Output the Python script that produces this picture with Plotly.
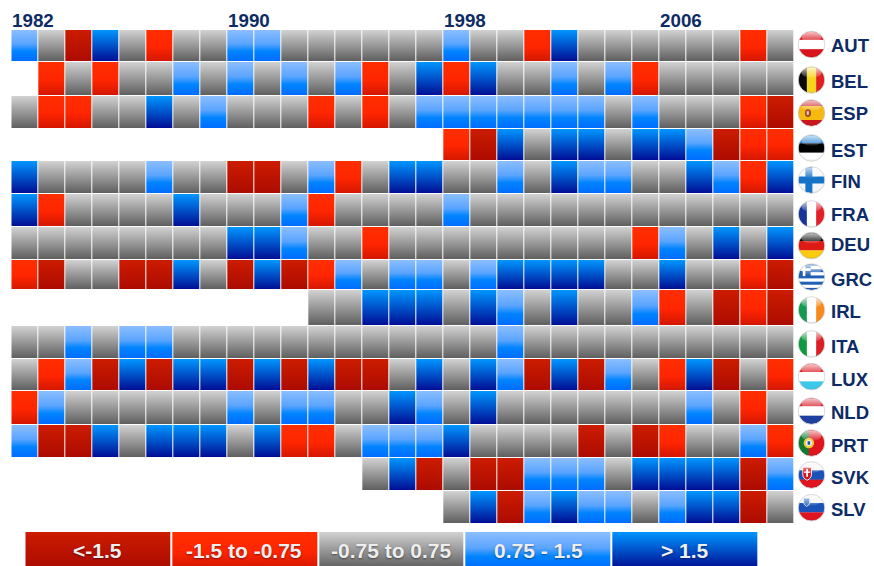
import base64
import numpy as np
import plotly.graph_objects as go

# ---- data ----
COUNTRIES = ["AUT", "BEL", "ESP", "EST", "FIN", "FRA", "DEU", "GRC", "IRL", "ITA", "LUX", "NLD", "PRT", "SVK", "SLV"]
FIRST_YEAR = 1982
YEAR_LABELS = [1982, 1990, 1998, 2006]
LEGEND_LABELS = ["<-1.5", "-1.5 to -0.75", "-0.75 to 0.75", "0.75 - 1.5", "> 1.5"]
# D: <-1.5, R: -1.5 to -0.75, G: -0.75 to 0.75, L: 0.75 - 1.5, B: > 1.5, .: no data
AUT = "LGDBGRGGLLGGGGGG" + "LGGRBGGGGGGRG"
BEL = ".RGRGGLGLGLGLRGB" + "RBGGLGLRGGGGG"
ESP = "GRRGGBGLGGGRGRGL" + "LLLLLLGLGGGRD"
EST = "................" + "RDBGBBGBBLDRR"
FIN = "BGGGGLGGDDGLRGBB" + "GGLGBLLGGBLRB"
FRA = "BRGGGGBGGGLRGGGG" + "LGGGGGGGGGGGG"
DEU = "GGGGGGGGBBLGGRGG" + "GGGGGGGRLGBGB"
GRC = "RDGGDDBGDBDRLGLL" + "GLBBBBGGBGGRD"
IRL = "...........GGBBB" + "GBLGBGGLRGDRD"
ITA = "GGLGLLGGGGGGGGGG" + "GGLGGGGGGGGGG"
LUX = "GRLDBDBBDBDBDDGB" + "GBLDBDLGRBDGR"
NLD = "RLGGGGGGLGLLGGBL" + "GBGGGGGGGLGRG"
PRT = "LDDBGBBBGBRRGLLL" + "BGGGGDGDRGGLR"
SVK = ".............GBD" + "GDDLLLGBBBBDL"
SLV = "................" + "GBDLBLLGLBBDG"
ROWS = [AUT, BEL, ESP, EST, FIN, FRA, DEU, GRC, IRL, ITA, LUX, NLD, PRT, SVK, SLV]
CODES = "DRGLB"

# ---- layout constants (pixels on the 874x566 page) ----
W, H = 874, 566
ROW_TOPS = [30, 62, 96, 129, 161, 194, 227, 260, 290, 326, 359, 391, 425, 458, 491, 524]
FLAG_Y = [44.5, 80, 113, 148, 180, 214, 245.7, 277, 310, 344, 376.7, 411, 443, 475, 507.7]
LABEL_Y = [45, 81, 113, 150, 181, 214, 244, 279, 311, 346, 379, 412, 445, 477, 509]
GRID_L, GRID_R = 11.3, 794.0
LEG_L, LEG_R = 25.3, 759.3
LEG_T, LEG_B = 532, 568
NAVY = "#0d2b66"
FONT = "Liberation Sans"

# gradient for each category, top to bottom: (position, colour)
GRADS = [
    [(0, "#cc1c00"), (1, "#ac0b00")],
    [(0, "#ff2e00"), (0.55, "#ff2500"), (1, "#d41700")],
    [(0, "#d2d2d2"), (1, "#5f5f5f")],
    [(0, "#8cbeff"), (0.45, "#5aa4ff"), (0.68, "#0084ff"), (1, "#006cff")],
    [(0, "#0096ff"), (1, "#000e94")],
]
colorscale = []
for k, g in enumerate(GRADS):
    for pos, col in g:
        colorscale.append([(k + pos) / len(GRADS), col])

# y edges: one band per pixel so the vertical gradient is smooth; last pixel of each row stays blank
y_edges = list(range(ROW_TOPS[0], ROW_TOPS[-1] + 1))
# x edges: each year column followed by a thin blank gap
n_cols = len(ROWS[0])
x_edges = []
for c in range(n_cols):
    x_edges += [FIRST_YEAR + c, FIRST_YEAR + c + 0.963]
x_edges.append(FIRST_YEAR + n_cols)

z = np.full((len(y_edges) - 1, len(x_edges) - 1), np.nan)
for r, row in enumerate(ROWS):
    top, bottom = ROW_TOPS[r], ROW_TOPS[r + 1] - 1
    for c, code in enumerate(row):
        if code == ".":
            continue
        k = CODES.index(code)
        for py in range(top, bottom):
            z[py - ROW_TOPS[0], c * 2] = k + (py - top + 0.5) / (bottom - top)

# legend heatmap
leg_y = list(range(LEG_T, LEG_B + 1))
leg_x = []
for i in range(len(LEGEND_LABELS)):
    leg_x += [i, i + 0.986]
leg_x.append(len(LEGEND_LABELS))
leg_z = np.full((len(leg_y) - 1, len(leg_x) - 1), np.nan)
for i in range(len(LEGEND_LABELS)):
    for b in range(len(leg_y) - 1):
        leg_z[b, i * 2] = i + (b + 0.5) / (len(leg_y) - 1)

fig = go.Figure()
common = dict(colorscale=colorscale, zmin=0, zmax=len(GRADS), showscale=False, hoverongaps=False)
fig.add_trace(go.Heatmap(x=x_edges, y=y_edges, z=z.tolist(), xaxis="x", yaxis="y", **common))
fig.add_trace(go.Heatmap(x=leg_x, y=leg_y, z=leg_z.tolist(), xaxis="x2", yaxis="y", **common))


# ---- flags as small inline SVG pictures ----
def hs(*cols):
    n = len(cols)
    return "".join(f'<rect x="0" y="{i*64/n}" width="64" height="{64/n+0.5}" fill="{c}"/>' for i, c in enumerate(cols))


def vs(*cols):
    n = len(cols)
    return "".join(f'<rect x="{i*64/n}" y="0" width="{64/n+0.5}" height="64" fill="{c}"/>' for i, c in enumerate(cols))


BODY = {
    "AUT": hs("#d8141e", "#ffffff", "#d8141e"),
    "BEL": vs("#0a0a0a", "#f7d51d", "#e02020"),
    "ESP": '<rect width="64" height="64" fill="#c8181e"/><rect y="16" width="64" height="32" fill="#f5b90f"/>'
           '<ellipse cx="24" cy="32" rx="7" ry="9" fill="#a8452a"/><rect x="21" y="28" width="5" height="8" fill="#d8d0c0"/>',
    "EST": hs("#2f86d8", "#000000", "#ffffff"),
    "FIN": '<rect width="64" height="64" fill="#f4f6f8"/><rect y="24" width="64" height="16" fill="#1573c8"/>'
           '<rect x="18" width="16" height="64" fill="#1573c8"/>',
    "FRA": vs("#16349a", "#ffffff", "#e2202a"),
    "DEU": hs("#0a0a0a", "#dd1a14", "#fbcb10"),
    "GRC": "".join(f'<rect y="{i*64/9}" width="64" height="{64/9+0.3}" fill="{"#1f5fb4" if i % 2 == 0 else "#ffffff"}"/>' for i in range(9))
           + '<rect width="30" height="30" fill="#1f5fb4"/><rect y="12" width="30" height="6" fill="#fff"/><rect x="12" width="6" height="30" fill="#fff"/>',
    "IRL": vs("#159a52", "#ffffff", "#f88a1c"),
    "ITA": vs("#109a40", "#ffffff", "#dc1e28"),
    "LUX": hs("#e0202a", "#ffffff", "#3cc8ea"),
    "NLD": hs("#d81e2a", "#ffffff", "#1e3f9e"),
    "PRT": '<rect width="64" height="64" fill="#e0141e"/><rect width="26" height="64" fill="#0f7a30"/>'
           '<circle cx="26" cy="32" r="12" fill="#f1c83a"/><circle cx="26" cy="32" r="7" fill="#f4f4f4"/><rect x="23" y="28" width="6" height="8" fill="#2050a8"/>',
    "SVK": hs("#f4f4f4", "#1a52b8", "#e0141e")
           + '<path d="M12 14 h20 v16 q0 10 -10 14 q-10 -4 -10 -14 z" fill="#d8141e" stroke="#fff" stroke-width="2"/>'
             '<rect x="20" y="18" width="4" height="18" fill="#fff"/><rect x="15" y="24" width="14" height="3" fill="#fff"/>',
    "SLV": hs("#f4f4f4", "#1a52b8", "#e0141e")
           + '<path d="M14 10 h14 v10 q0 6 -7 9 q-7 -3 -7 -9 z" fill="#2a6ac8" stroke="#e8e8e8" stroke-width="2"/>',
}


def flag_uri(body):
    svg = (
        '<svg xmlns="http://www.w3.org/2000/svg" width="64" height="64" viewBox="0 0 64 64">'
        '<defs><clipPath id="c"><circle cx="32" cy="32" r="30"/></clipPath>'
        '<linearGradient id="g" x1="0" y1="0" x2="0" y2="1"><stop offset="0" stop-color="#fff" stop-opacity=".75"/>'
        '<stop offset="1" stop-color="#fff" stop-opacity=".08"/></linearGradient>'
        '<radialGradient id="s" cx=".5" cy=".42" r=".6"><stop offset=".8" stop-color="#000" stop-opacity="0"/>'
        '<stop offset="1" stop-color="#000" stop-opacity=".22"/></radialGradient></defs>'
        f'<g clip-path="url(#c)">{body}<rect width="64" height="64" fill="url(#s)"/>'
        '<ellipse cx="32" cy="15" rx="23" ry="12" fill="url(#g)"/></g>'
        '<circle cx="32" cy="32" r="30.5" fill="none" stroke="#d5d5d5" stroke-width="2"/></svg>'
    )
    return "data:image/svg+xml;base64," + base64.b64encode(svg.encode()).decode()


images = []
annotations = []
FLAG_X = 811.5
FLAG_D = 28
for name, fy, ly in zip(COUNTRIES, FLAG_Y, LABEL_Y):
    images.append(dict(source=flag_uri(BODY[name]), xref="paper", yref="paper",
                       x=FLAG_X / W, y=1 - fy / H, sizex=FLAG_D / W, sizey=FLAG_D / H,
                       xanchor="center", yanchor="middle", sizing="stretch", layer="above"))
    annotations.append(dict(text=name, xref="paper", yref="y", x=829 / W, y=ly, xanchor="left", yanchor="middle",
                            showarrow=False, font=dict(family=FONT, size=18.5, color=NAVY, weight="bold")))
for yr in YEAR_LABELS:
    annotations.append(dict(text=str(yr), xref="x", yref="y", x=yr, y=20, xanchor="left", yanchor="middle",
                            xshift=-1, showarrow=False, font=dict(family=FONT, size=18.8, color=NAVY, weight="bold")))
for i, t in enumerate(LEGEND_LABELS):
    annotations.append(dict(text=t, xref="x2", yref="y", x=i + 0.493, y=550, xanchor="center", yanchor="middle",
                            showarrow=False,
                            font=dict(family=FONT, size=21, color="#eeeeee", weight="bold",
                                      shadow="0px 1px 2px rgba(0,0,0,0.45)")))

hidden = dict(showgrid=False, zeroline=False, showticklabels=False, ticks="", showline=False)
fig.update_layout(
    width=W, height=H, margin=dict(l=0, r=0, t=0, b=0), paper_bgcolor="white", plot_bgcolor="rgba(0,0,0,0)",
    showlegend=False, images=images, annotations=annotations,
    xaxis=dict(domain=[GRID_L / W, GRID_R / W], range=[FIRST_YEAR, FIRST_YEAR + n_cols], anchor="y", **hidden),
    xaxis2=dict(domain=[LEG_L / W, LEG_R / W], range=[0, len(LEGEND_LABELS)], anchor="y", **hidden),
    yaxis=dict(domain=[0, 1], range=[H, 0], anchor="x", **hidden),
)
fig.write_html("out.html", config=dict(displayModeBar=False),
               post_script="document.body.style.margin='0';document.body.style.overflow='hidden';window.dispatchEvent(new Event('resize'));")
